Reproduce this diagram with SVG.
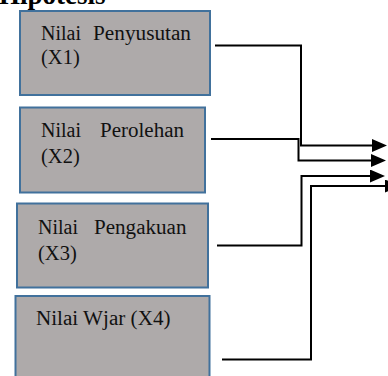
<svg xmlns="http://www.w3.org/2000/svg" width="388" height="376" viewBox="0 0 388 376">
<style>
.box{fill:#aeaaaa;stroke:#41719c;stroke-width:2}
.t{font-family:"Liberation Serif","Times New Roman",serif;font-size:20.5px;fill:#111}
.c{fill:none;stroke:#000;stroke-width:2;marker-end:url(#ah)}
</style>
<defs>
<marker id="ah" markerUnits="userSpaceOnUse" markerWidth="16" markerHeight="14" refX="0" refY="6.5" orient="auto">
<path d="M0,0 L15,6.5 L0,13 z" fill="#000"/>
</marker>
</defs>
<rect width="388" height="376" fill="#fff"/>
<text x="-1" y="4" font-family="Liberation Serif, serif" font-size="27" font-weight="bold" fill="#000">Hipotesis</text>
<g id="x1">
<rect class="box" x="20" y="11" width="190" height="84"/>
<text class="t" x="41" y="40" textLength="40" lengthAdjust="spacingAndGlyphs">Nilai</text>
<text class="t" x="93" y="40" textLength="98" lengthAdjust="spacingAndGlyphs">Penyusutan</text>
<text class="t" x="41" y="64">(X1)</text>
</g>
<g id="x2">
<rect class="box" x="20" y="107.5" width="185" height="85"/>
<text class="t" x="41" y="136.5" textLength="40" lengthAdjust="spacingAndGlyphs">Nilai</text>
<text class="t" x="100" y="136.5" textLength="84" lengthAdjust="spacingAndGlyphs">Perolehan</text>
<text class="t" x="41" y="163">(X2)</text>
</g>
<g id="x3">
<rect class="box" x="17" y="203.5" width="191" height="84"/>
<text class="t" x="38" y="234" textLength="40" lengthAdjust="spacingAndGlyphs">Nilai</text>
<text class="t" x="94" y="234" textLength="92.5" lengthAdjust="spacingAndGlyphs">Pengakuan</text>
<text class="t" x="38" y="260">(X3)</text>
</g>
<g id="x4">
<rect class="box" x="15.5" y="296" width="194" height="100"/>
<text class="t" x="36" y="325" textLength="134.5" lengthAdjust="spacingAndGlyphs">Nilai Wjar (X4)</text>
</g>
<g id="connectors">
<path class="c" d="M215 45.5 H301 V145.5 H372"/>
<path class="c" d="M211 139 H298.5 V160.5 H371"/>
<path class="c" d="M217 245.5 H301.5 V176 H370"/>
<path class="c" d="M222 359.5 H311 V186 H385"/>
</g>
</svg>
